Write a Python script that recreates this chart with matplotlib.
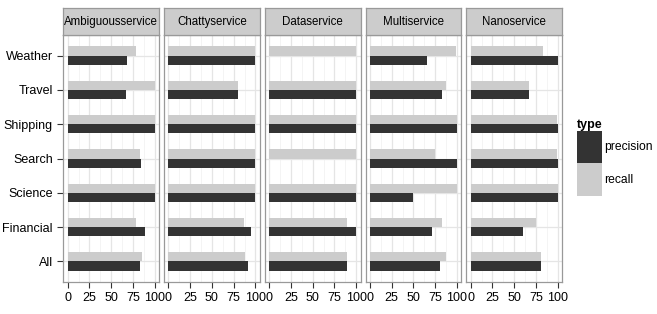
import matplotlib
matplotlib.use("Agg")
import matplotlib.pyplot as plt
import numpy as np
from matplotlib.patches import Patch

plt.rcParams['font.family'] = ['Liberation Sans', 'DejaVu Sans']

services = ["Ambiguousservice", "Chattyservice", "Dataservice", "Multiservice", "Nanoservice"]
categories = ["All", "Financial", "Science", "Search", "Shipping", "Travel", "Weather"]

# values listed in the order of `categories` (bottom to top)
precision = {
    "Ambiguousservice": [83, 89, 100, 84, 100, 67, 68],
    "Chattyservice":    [92, 95, 100, 100, 100, 80, 100],
    "Dataservice":      [89, 100, 100, 0, 100, 100, 0],
    "Multiservice":     [80, 71, 50, 100, 100, 83, 66],
    "Nanoservice":      [81, 60, 100, 100, 100, 67, 100],
}
recall = {
    "Ambiguousservice": [85, 79, 100, 83, 100, 100, 79],
    "Chattyservice":    [88, 87, 100, 99, 99, 80, 100],
    "Dataservice":      [89, 89, 100, 100, 100, 100, 100],
    "Multiservice":     [88, 83, 100, 75, 100, 88, 99],
    "Nanoservice":      [81, 75, 100, 99, 99, 67, 83],
}

c_prec = "#333333"
c_rec = "#CCCCCC"

W, H = 657, 314
fig = plt.figure(figsize=(W / 100, H / 100), dpi=100)

left0, step, pw = 63.3, 100.75, 95.7
ptop, pbot, stop = 35.0, 282.0, 8.3
y = np.arange(len(categories))
bw = 0.27

for i, s in enumerate(services):
    x0 = left0 + i * step
    ax = fig.add_axes([x0 / W, 1 - pbot / H, pw / W, (pbot - ptop) / H])
    ax.set_facecolor("white")
    ax.barh(y - bw / 2, precision[s], height=bw, color=c_prec, zorder=3)
    ax.barh(y + bw / 2, recall[s], height=bw, color=c_rec, zorder=3)
    ax.set_xlim(-5, 105)
    ax.set_ylim(-0.6, len(categories) - 0.4)
    ax.set_xticks([0, 25, 50, 75, 100])
    ax.set_xticks([12.5, 37.5, 62.5, 87.5], minor=True)
    ax.set_yticks(y)
    ax.grid(which="major", color="#E5E5E5", linewidth=0.9, zorder=0)
    ax.grid(which="minor", axis="x", color="#F2F2F2", linewidth=0.6, zorder=0)
    ax.set_axisbelow(True)
    for sp in ax.spines.values():
        sp.set_color("#999999")
        sp.set_linewidth(0.9)
    ax.tick_params(axis="both", which="major", color="#333333", length=4.5,
                   width=0.8, labelsize=9, labelcolor="black", pad=3)
    ax.tick_params(axis="x", which="minor", length=0)
    if i == 0:
        ax.set_yticklabels(categories)
    else:
        ax.tick_params(axis="y", left=False, labelleft=False)

    sax = fig.add_axes([x0 / W, 1 - ptop / H, pw / W, (ptop - stop) / H])
    sax.set_facecolor("#CCCCCC")
    sax.set_xticks([])
    sax.set_yticks([])
    for sp in sax.spines.values():
        sp.set_color("#999999")
        sp.set_linewidth(0.9)
    sax.text(0.5, 0.47, s, ha="center", va="center", fontsize=8.3,
             transform=sax.transAxes)

handles = [Patch(facecolor=c_prec, edgecolor="none"),
           Patch(facecolor=c_rec, edgecolor="none")]
leg = fig.legend(handles, ["precision", "recall"], title="type",
                 loc="upper left", bbox_to_anchor=(567 / W, 1 - 109 / H),
                 frameon=False, fontsize=8.7, handlelength=2.1, handleheight=3.8,
                 labelspacing=0, handletextpad=0.15, borderpad=0.3,
                 alignment="left", title_fontproperties={"weight": "bold", "size": 9})

fig.savefig("out.png", dpi=100)
